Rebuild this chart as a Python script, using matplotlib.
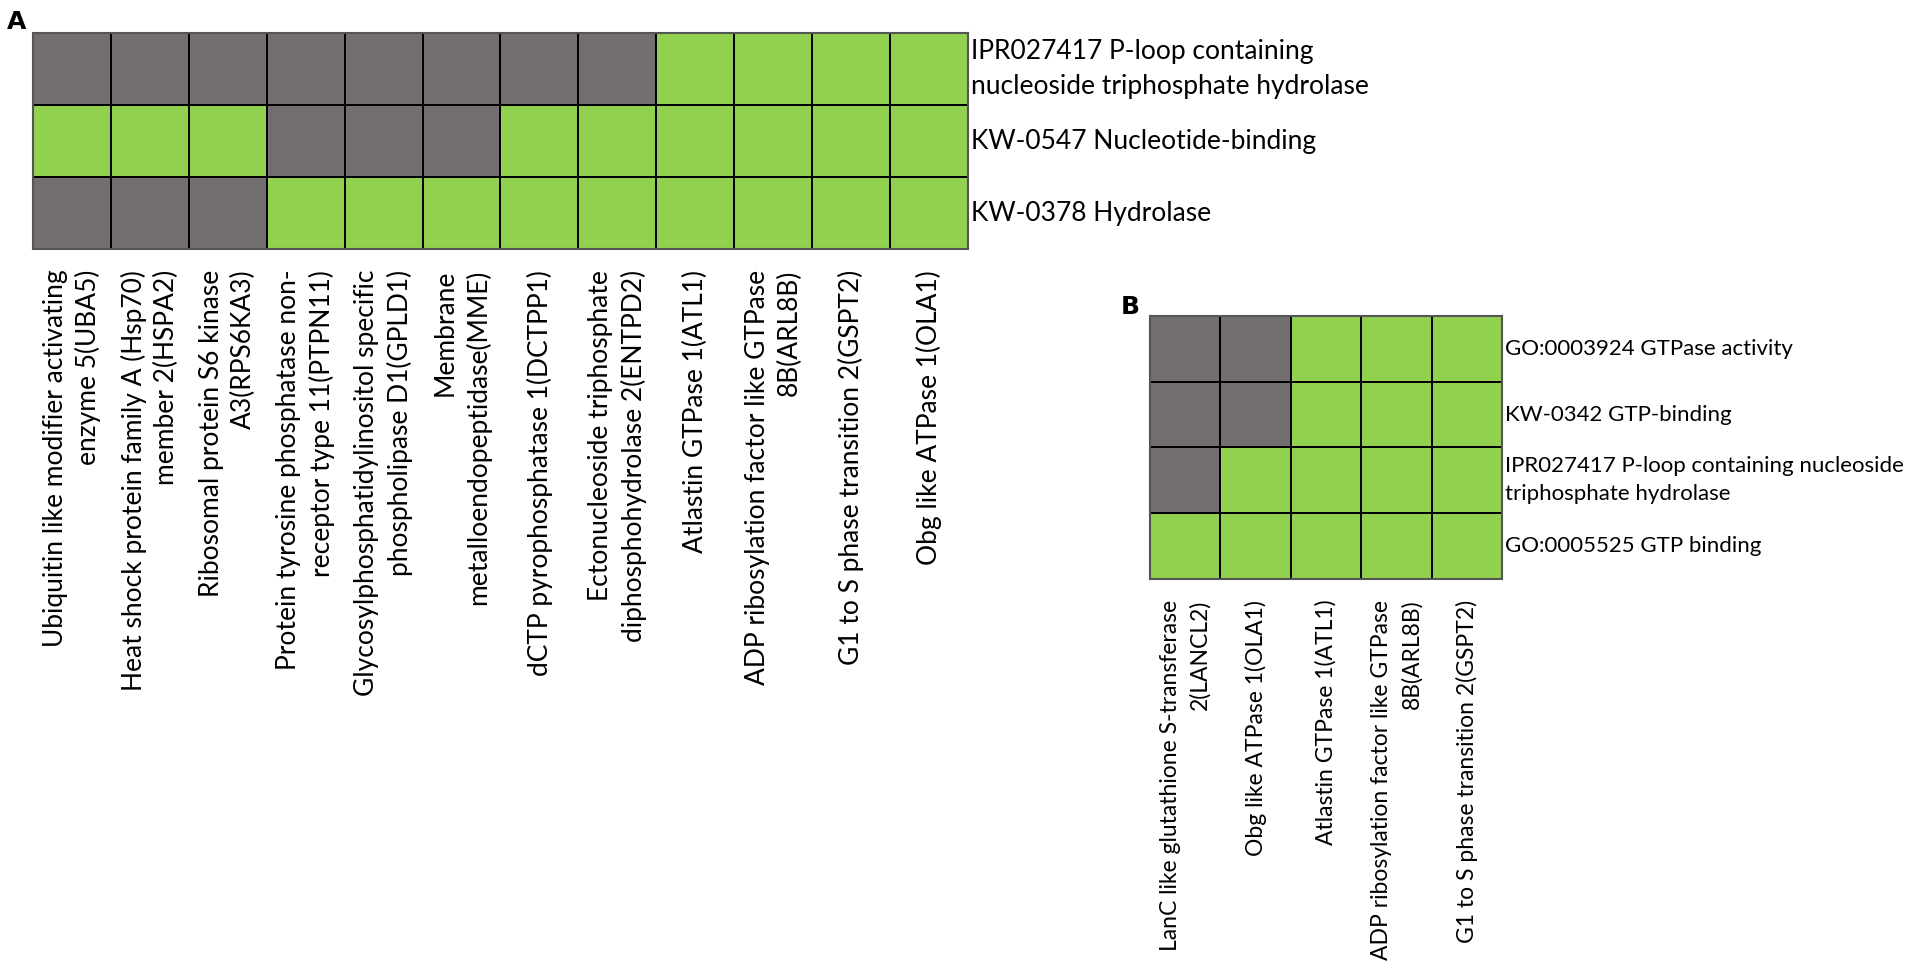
import numpy as np
import matplotlib.pyplot as plt
from matplotlib.colors import ListedColormap

label_font = 'Lato'

# Panel A data
genes_a = [
    "Ubiquitin like modifier activating\nenzyme 5(UBA5)",
    "Heat shock protein family A (Hsp70)\nmember 2(HSPA2)",
    "Ribosomal protein S6 kinase\nA3(RPS6KA3)",
    "Protein tyrosine phosphatase non-\nreceptor type 11(PTPN11)",
    "Glycosylphosphatidylinositol specific\nphospholipase D1(GPLD1)",
    "Membrane\nmetalloendopeptidase(MME)",
    "dCTP pyrophosphatase 1(DCTPP1)",
    "Ectonucleoside triphosphate\ndiphosphohydrolase 2(ENTPD2)",
    "Atlastin GTPase 1(ATL1)",
    "ADP ribosylation factor like GTPase\n8B(ARL8B)",
    "G1 to S phase transition 2(GSPT2)",
    "Obg like ATPase 1(OLA1)",
]
terms_a = [
    "IPR027417 P-loop containing\nnucleoside triphosphate hydrolase",
    "KW-0547 Nucleotide-binding",
    "KW-0378 Hydrolase",
]
# 1 = annotated (green), 0 = not annotated (gray)
ipr027417_a = [0, 0, 0, 0, 0, 0, 0, 0, 1, 1, 1, 1]
kw0547_a = [1, 1, 1, 0, 0, 0, 1, 1, 1, 1, 1, 1]
kw0378_a = [0, 0, 0, 1, 1, 1, 1, 1, 1, 1, 1, 1]

# Panel B data
genes_b = [
    "LanC like glutathione S-transferase\n2(LANCL2)",
    "Obg like ATPase 1(OLA1)",
    "Atlastin GTPase 1(ATL1)",
    "ADP ribosylation factor like GTPase\n8B(ARL8B)",
    "G1 to S phase transition 2(GSPT2)",
]
terms_b = [
    "GO:0003924 GTPase activity",
    "KW-0342 GTP-binding",
    "IPR027417 P-loop containing nucleoside\ntriphosphate hydrolase",
    "GO:0005525 GTP binding",
]
go0003924_b = [0, 0, 1, 1, 1]
kw0342_b = [0, 0, 1, 1, 1]
ipr027417_b = [0, 1, 1, 1, 1]
go0005525_b = [1, 1, 1, 1, 1]

cmap = ListedColormap(['#736f6e', '#92d050'])

W, H = 1931, 971
fig = plt.figure(figsize=(W / 100, H / 100), dpi=100)


def add_ax(x0, y0, x1, y1):
    return fig.add_axes([x0 / W, 1 - y1 / H, (x1 - x0) / W, (y1 - y0) / H])


def heat(ax, mat, cols, rows, colsize, colspace, rowsize, rowspace):
    mat = np.array(mat)
    ax.pcolormesh(mat, cmap=cmap, vmin=0, vmax=1, edgecolors='black', linewidth=1.3)
    ax.set_xlim(0, mat.shape[1])
    ax.set_ylim(mat.shape[0], 0)
    ax.set_xticks(np.arange(mat.shape[1]) + 0.5)
    ax.set_xticklabels(cols, rotation=90, ha='center', va='top', multialignment='right',
                       fontsize=colsize, family=label_font, linespacing=colspace)
    ax.tick_params(axis='x', length=0, pad=15)
    ax.yaxis.tick_right()
    ax.set_yticks(np.arange(mat.shape[0]) + 0.5)
    ax.set_yticklabels(rows, fontsize=rowsize, family=label_font, ha='left', va='center',
                       linespacing=rowspace)
    ax.tick_params(axis='y', length=0, pad=2)
    for s in ax.spines.values():
        s.set_color('#555555')
        s.set_linewidth(1.5)


axA = add_ax(33, 33, 968, 249)
heat(axA, [ipr027417_a, kw0547_a, kw0378_a], genes_a, terms_a,
     19, 1.35, 19, 1.5)

axB = add_ax(1150, 316, 1502, 579)
heat(axB, [go0003924_b, kw0342_b, ipr027417_b, go0005525_b], genes_b, terms_b,
     16.5, 1.5, 16, 1.5)

fig.text(17 / W, 1 - 22 / H, "A", fontsize=18, fontweight='bold', ha='center', va='center')
fig.text(1130 / W, 1 - 307 / H, "B", fontsize=18, fontweight='bold', ha='center', va='center')

fig.savefig('out.png', dpi=100, facecolor='white')
